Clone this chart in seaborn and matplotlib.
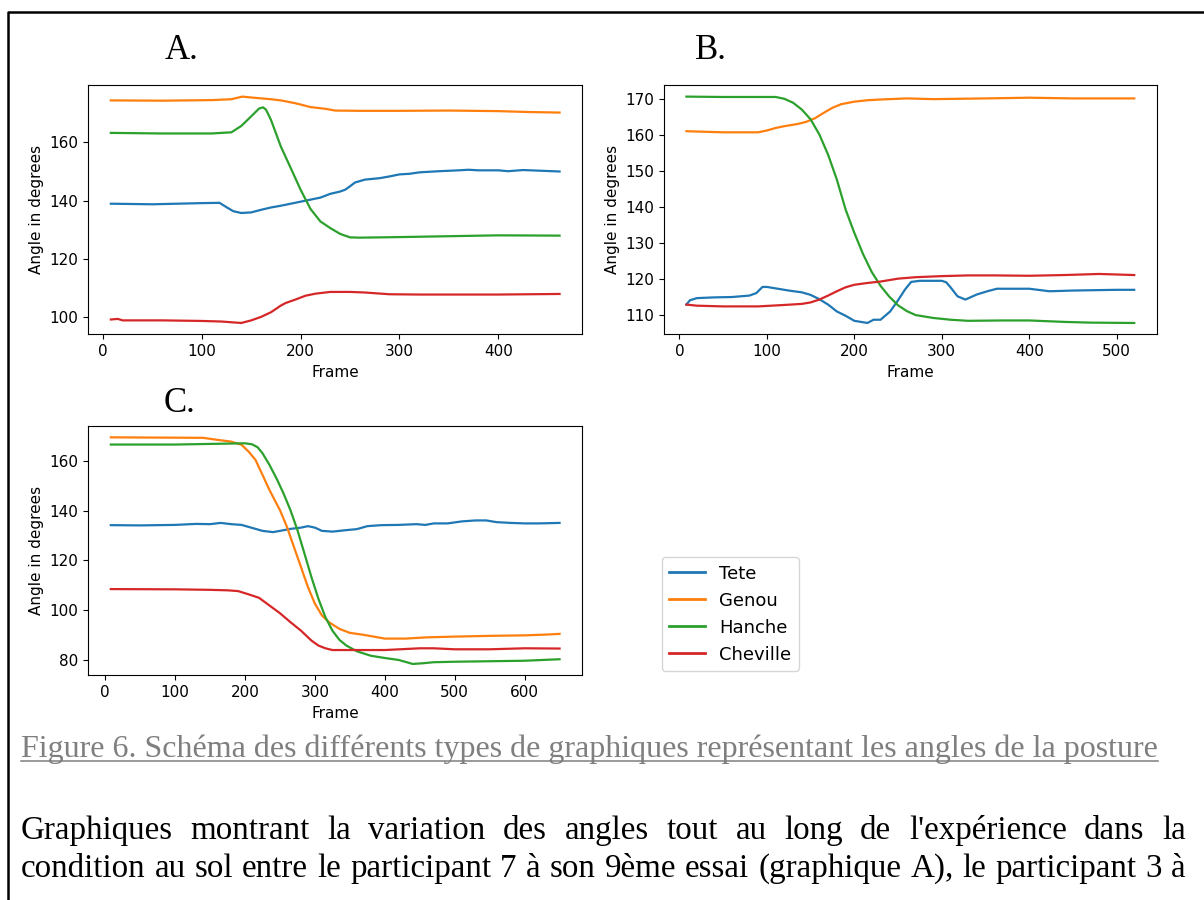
import numpy as np
import pandas as pd
import matplotlib
matplotlib.use("Agg")
import matplotlib.pyplot as plt
import seaborn as sns
from matplotlib.lines import Line2D
from matplotlib.ticker import MultipleLocator

W, H = 1204, 900
plt.rcParams["font.family"] = ["DejaVu Sans"]
plt.rcParams["font.size"] = 11

JOINTS = ["Tete", "Genou", "Hanche", "Cheville"]
COLORS = ["#1f77b4", "#ff7f0e", "#2ca02c", "#d62728"]

# ---------------- Panel A ----------------
A_tete_f = [8, 50, 100, 118, 125, 132, 140, 150, 160, 170, 180, 190, 200, 210, 220, 230, 240, 245, 250, 255,
            265, 280, 290, 300, 310, 320, 340, 360, 370, 380, 400, 410, 425, 440, 462]
A_tete_v = [138.9, 138.7, 139.1, 139.2, 137.7, 136.3, 135.7, 135.9, 136.8, 137.6, 138.2, 138.9, 139.6, 140.3,
            141.0, 142.3, 143.1, 143.7, 144.9, 146.2, 147.2, 147.7, 148.3, 149.0, 149.2, 149.7, 150.1, 150.4,
            150.6, 150.4, 150.4, 150.1, 150.5, 150.3, 150.0]
A_genou_f = [8, 60, 110, 130, 141, 150, 160, 170, 180, 195, 210, 225, 235, 260, 300, 350, 400, 430, 462]
A_genou_v = [174.5, 174.4, 174.6, 174.9, 175.8, 175.5, 175.2, 174.9, 174.5, 173.5, 172.2, 171.6, 171.0, 170.9,
             170.9, 171.0, 170.8, 170.5, 170.3]
A_hanche_f = [8, 60, 110, 130, 140, 150, 158, 162, 165, 170, 180, 190, 200, 210, 220, 230, 240, 250, 260, 300,
              400, 462]
A_hanche_v = [163.3, 163.1, 163.1, 163.5, 165.7, 169.0, 171.7, 172.1, 171.3, 167.8, 158.6, 151.2, 143.7, 137.1,
              132.8, 130.5, 128.5, 127.3, 127.2, 127.4, 128.0, 127.9]
A_chev_f = [8, 15, 20, 60, 100, 120, 140, 150, 160, 170, 180, 185, 195, 205, 215, 230, 250, 265, 290, 320, 400, 462]
A_chev_v = [99.0, 99.2, 98.7, 98.7, 98.5, 98.3, 97.8, 98.7, 99.9, 101.5, 103.8, 104.7, 105.9, 107.2, 107.9, 108.5,
            108.5, 108.3, 107.7, 107.6, 107.6, 107.8]

# ---------------- Panel B ----------------
B_tete_f = [8, 12, 20, 40, 60, 80, 88, 95, 100, 115, 125, 140, 150, 160, 170, 180, 190, 200, 215, 222,
            230, 241, 250, 258, 265, 275, 300, 305, 310, 318, 327, 340, 352, 363, 400, 423, 450, 500, 520]
B_tete_v = [113.0, 114.2, 114.8, 115.0, 115.1, 115.5, 116.2, 117.9, 117.9, 117.3, 116.9, 116.4, 115.7, 114.5,
            113.0, 111.1, 109.9, 108.5, 107.9, 108.8, 108.8, 111.1, 114.2, 117.2, 119.3, 119.6, 119.6, 119.2,
            117.8, 115.3, 114.4, 115.8, 116.7, 117.4, 117.4, 116.7, 116.9, 117.1, 117.1]
B_genou_f = [8, 50, 90, 100, 110, 120, 135, 145, 155, 165, 175, 185, 200, 215, 230, 260, 290, 350, 400, 450, 520]
B_genou_v = [161.1, 160.8, 160.8, 161.3, 162.0, 162.5, 163.1, 163.7, 164.7, 166.2, 167.6, 168.6, 169.3, 169.7,
             169.9, 170.2, 170.0, 170.2, 170.4, 170.2, 170.2]
B_hanche_f = [8, 50, 100, 110, 120, 130, 140, 150, 160, 170, 180, 190, 200, 210, 220, 230, 240, 250, 260, 270,
              290, 310, 330, 370, 400, 440, 470, 520]
B_hanche_v = [170.7, 170.6, 170.6, 170.6, 170.1, 169.0, 167.1, 164.4, 160.2, 154.6, 147.7, 139.4, 132.9, 127.0,
              122.0, 118.2, 115.2, 112.8, 111.2, 110.1, 109.3, 108.8, 108.5, 108.6, 108.6, 108.2, 108.0, 107.9]
B_chev_f = [8, 20, 50, 90, 120, 140, 150, 160, 170, 180, 190, 200, 215, 230, 250, 270, 300, 330, 360, 400, 440,
            480, 520]
B_chev_v = [113.0, 112.7, 112.5, 112.5, 112.9, 113.2, 113.6, 114.4, 115.5, 116.7, 117.8, 118.5, 119.0, 119.4,
            120.2, 120.6, 120.9, 121.1, 121.1, 121.0, 121.2, 121.5, 121.2]

# ---------------- Panel C ----------------
C_tete_f = [8, 50, 100, 130, 150, 165, 180, 195, 210, 225, 240, 250, 265, 280, 290, 300, 310, 325, 345, 360,
            375, 395, 420, 445, 458, 470, 490, 510, 530, 545, 560, 580, 600, 620, 650]
C_tete_v = [134.2, 134.1, 134.3, 134.7, 134.6, 135.1, 134.6, 134.3, 133.1, 131.9, 131.4, 131.9, 132.7, 133.2,
            133.8, 133.2, 131.9, 131.6, 132.2, 132.6, 133.8, 134.2, 134.3, 134.6, 134.3, 134.9, 134.9, 135.7,
            136.1, 136.1, 135.4, 135.1, 134.9, 134.9, 135.1]
C_genou_f = [8, 140, 160, 180, 195, 205, 215, 225, 235, 250, 260, 270, 280, 290, 300, 310, 320, 335, 350, 370,
             390, 400, 430, 460, 500, 550, 600, 630, 650]
C_genou_v = [169.5, 169.3, 168.5, 167.8, 166.5, 163.8, 160.4, 154.4, 148.3, 140.2, 133.5, 125.4, 117.4, 109.3,
             102.6, 97.9, 95.2, 92.5, 90.9, 90.1, 89.1, 88.6, 88.6, 89.1, 89.4, 89.7, 89.9, 90.2, 90.5]
C_hanche_f = [8, 100, 160, 200, 210, 218, 225, 235, 245, 255, 265, 275, 285, 295, 305, 315, 325, 335, 345, 360,
              380, 400, 420, 440, 455, 470, 500, 550, 600, 650]
C_hanche_v = [166.6, 166.6, 166.9, 167.1, 166.7, 165.5, 163.1, 158.4, 153.0, 147.0, 140.2, 132.2, 122.8, 113.3,
              104.6, 97.2, 91.8, 88.1, 85.8, 83.5, 81.7, 80.8, 80.0, 78.4, 78.7, 79.1, 79.3, 79.5, 79.7, 80.3]
C_chev_f = [8, 100, 150, 175, 190, 205, 220, 235, 250, 265, 280, 295, 305, 315, 325, 350, 400, 450, 470, 500,
            550, 600, 650]
C_chev_v = [108.5, 108.4, 108.2, 108.0, 107.7, 106.4, 105.0, 101.9, 98.8, 95.2, 91.8, 87.8, 85.8, 84.7, 84.0,
            84.0, 84.0, 84.7, 84.7, 84.3, 84.3, 84.7, 84.6]

PANELS = {
    "A": [(A_tete_f, A_tete_v), (A_genou_f, A_genou_v), (A_hanche_f, A_hanche_v), (A_chev_f, A_chev_v)],
    "B": [(B_tete_f, B_tete_v), (B_genou_f, B_genou_v), (B_hanche_f, B_hanche_v), (B_chev_f, B_chev_v)],
    "C": [(C_tete_f, C_tete_v), (C_genou_f, C_genou_v), (C_hanche_f, C_hanche_v), (C_chev_f, C_chev_v)],
}
YSTEP = {"A": 20, "B": 10, "C": 20}

CAPTION = "Figure 6. Schéma des différents types de graphiques représentant les angles de la posture"
LINE1 = "Graphiques montrant la variation des angles tout au long de l'expérience dans la"
LINE2 = "condition au sol entre le participant 7 à son 9ème essai (graphique A), le participant 3 à"


def to_df(series):
    frames = []
    for name, (f, v) in zip(JOINTS, series):
        frames.append(pd.DataFrame({"Frame": f, "Angle": v, "Joint": name}))
    return pd.concat(frames, ignore_index=True)


def rect(x0, y0, x1, y1):
    return [x0 / W, 1 - y1 / H, (x1 - x0) / W, (y1 - y0) / H]


fig = plt.figure(figsize=(W / 100, H / 100), dpi=100)
fig.patch.set_facecolor("white")

boxes = {"A": rect(88.4, 85.3, 582, 334.3),
         "B": rect(664, 85.3, 1156.6, 334.3),
         "C": rect(88.4, 426, 582, 675.3)}
palette = dict(zip(JOINTS, COLORS))

for key, box in boxes.items():
    ax = fig.add_axes(box)
    df = to_df(PANELS[key])
    sns.lineplot(data=df, x="Frame", y="Angle", hue="Joint", hue_order=JOINTS, palette=palette,
                 estimator=None, sort=False, linewidth=1.6, legend=False, ax=ax)
    ax.set_xlabel("Frame", fontsize=11)
    ax.set_ylabel("Angle in degrees", fontsize=11)
    ax.yaxis.set_major_locator(MultipleLocator(YSTEP[key]))
    ax.xaxis.set_major_locator(MultipleLocator(100))
    ax.tick_params(labelsize=11)

# panel letters
for txt, x, yb in [("A.", 165, 59.3), ("B.", 695.4, 59.3), ("C.", 163.8, 411.7)]:
    fig.text(x / W, 1 - yb / H, txt, family="Liberation Serif", fontsize=25, va="baseline", ha="left")

# legend
handles = [Line2D([0], [0], color=c, lw=2) for c in COLORS]
fig.legend(handles, JOINTS, loc="upper left", bbox_to_anchor=(661.6 / W, 1 - 557.3 / H),
           borderaxespad=0, fontsize=13, frameon=True)

# outer border
fig.add_artist(Line2D([8 / W, 8 / W, 1.0], [0.0, 1 - 12 / H, 1 - 12 / H], color="black", lw=1.8,
                      transform=fig.transFigure, solid_capstyle="butt"))

renderer = fig.canvas.get_renderer()

# caption fitted to its measured width
x0, x1 = 20.7, 1160
cap = fig.text(x0 / W, 1 - 756.5 / H, CAPTION, family="Liberation Serif", fontsize=20, color="#7f7f7f",
               va="baseline", ha="left")
w = cap.get_window_extent(renderer).width
cap.set_fontsize(20 * (x1 - x0) / w)
w = cap.get_window_extent(renderer).width
fig.add_artist(Line2D([x0 / W, (x0 + w) / W], [1 - 760.8 / H, 1 - 760.8 / H], color="#7f7f7f", lw=1.1,
                      transform=fig.transFigure))


def justified(text, xa, xb, yb, size):
    words = text.split(" ")
    arts = [fig.text(0, 0, wd, family="Liberation Serif", fontsize=size, color="black",
                     va="baseline", ha="left") for wd in words]
    widths = [a.get_window_extent(renderer).width for a in arts]
    gap = ((xb - xa) - sum(widths)) / (len(words) - 1)
    x = xa
    for a, wd in zip(arts, widths):
        a.set_position((x / W, 1 - yb / H))
        x += wd + gap


justified(LINE1, 20.7, 1186, 839.3, 23.8)
justified(LINE2, 20.7, 1186, 876.7, 23.8)

fig.savefig("out.png", dpi=100, facecolor="white")
